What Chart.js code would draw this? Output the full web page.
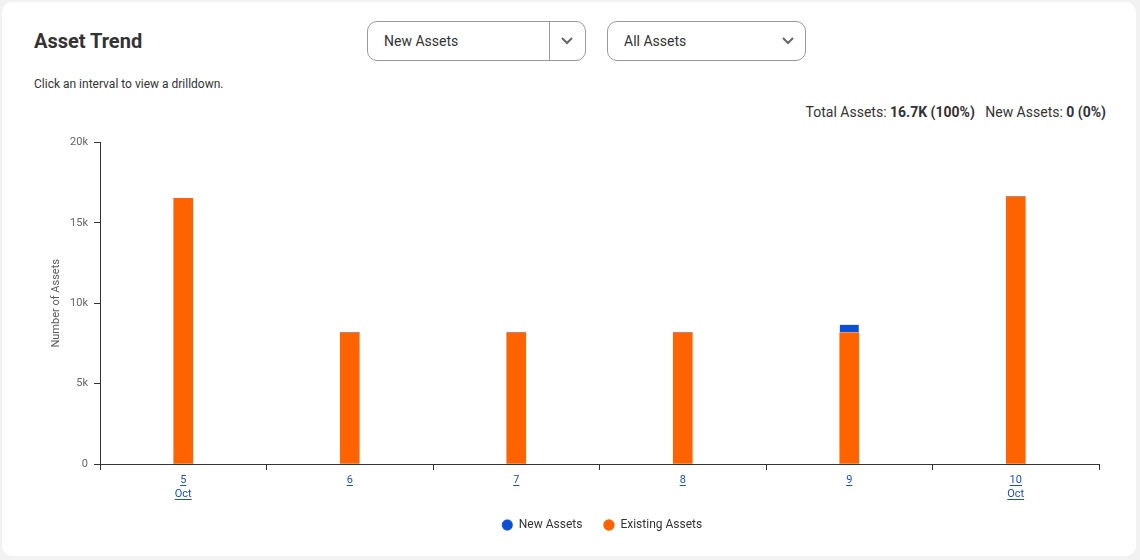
<!DOCTYPE html>
<html>
<head>
<meta charset="utf-8">
<script src="https://cdn.jsdelivr.net/npm/chart.js@4"></script>
<style>
  body { margin: 0; background: #f2f2f2; font-family: Roboto, sans-serif; color: #333; overflow: hidden; }
  .card { position: absolute; left: 2px; top: 2px; width: 1134px; height: 554px; background: #fff; border-radius: 10px; overflow: hidden; }
  .title { position: absolute; left: 32px; top: 27px; font-size: 20px; font-weight: bold; line-height: 24px; }
  .sub { position: absolute; left: 32px; top: 75px; font-size: 12px; line-height: 14px; }
  .dd { position: absolute; top: 19px; height: 38px; border: 1px solid #999; border-radius: 10px; box-sizing: content-box; font-size: 14px; line-height: 38px; }
  .dd span { position: absolute; left: 16px; }
  .dd svg { position: absolute; top: 14px; }
  .sep { position: absolute; left: 181px; top: 0; width: 1px; height: 38px; background: #999; }
  .stats { position: absolute; right: 30px; top: 101px; font-size: 14px; line-height: 18px; }
  .wrap { position: absolute; left: 24px; top: 128px; width: 1152px; height: 419px; }
</style>
</head>
<body>
<div class="card">
  <div class="title">Asset Trend</div>
  <div class="sub">Click an interval to view a drilldown.</div>
  <div class="dd" style="left:365px;width:217px">
    <span>New Assets</span>
    <div class="sep"></div>
    <svg style="left:192px" width="14" height="10"><polyline points="2,2 7,7 12,2" fill="none" stroke="#666" stroke-width="2"/></svg>
  </div>
  <div class="dd" style="left:605px;width:197px">
    <span>All Assets</span>
    <svg style="left:173px" width="14" height="10"><polyline points="2,2 7,7 12,2" fill="none" stroke="#666" stroke-width="2"/></svg>
  </div>
  <div class="stats">Total Assets: <b>16.7K (100%)</b>&nbsp;&nbsp;&nbsp;New Assets: <b>0 (0%)</b></div>
  <div class="wrap"><canvas id="myChart"></canvas></div>
</div>
<script>
const labels = [['5', 'Oct'], ['6'], ['7'], ['8'], ['9'], ['10', 'Oct']];
const existingAssets = [16530, 8160, 8160, 8160, 8160, 16620];
const newAssets = [0, 0, 0, 0, 500, 0];
const yTicks = [0, 5000, 10000, 15000, 20000];

const linkBlue = '#1c4fc4';

// underline the x tick labels like links
const underline = {
    id: 'underline',
    afterDraw(chart) {
        const scale = chart.scales.x;
        const ctx = chart.ctx;
        ctx.save();
        ctx.font = '11px Roboto';
        ctx.strokeStyle = linkBlue;
        ctx.lineWidth = 1;
        scale.ticks.forEach((t, i) => {
            const x = scale.getPixelForTick(i);
            const lines = [].concat(labels[i]);
            lines.forEach((s, j) => {
                const w = ctx.measureText(s).width;
                const y = Math.round(scale.top + 6 + 4 + 11 + j * 14) + 0.5;
                ctx.beginPath();
                ctx.moveTo(x - w / 2, y);
                ctx.lineTo(x + w / 2, y);
                ctx.stroke();
            });
        });
        ctx.restore();
    }
};

const data = {
    labels,
    datasets: [{
        label: 'Existing Assets',
        data: existingAssets,
        backgroundColor: '#ff6300',
        barThickness: 19,
    }, {
        label: 'New Assets',
        data: newAssets,
        backgroundColor: '#0a50d0',
        borderColor: '#ffffff',
        borderWidth: { bottom: 1, top: 0, left: 0, right: 0 },
        borderSkipped: false,
        barThickness: 19,
    }],
};

const config = {
    type: 'bar',
    data: data,
    plugins: [underline],
    options: {
        responsive: true,
        maintainAspectRatio: false,
        animation: false,
        layout: { padding: { top: 3, right: 0, bottom: 8 } },
        plugins: {
            tooltip: { enabled: false },
            legend: {
                position: 'bottom',
                reverse: true,
                labels: {
                    usePointStyle: true,
                    pointStyle: 'circle',
                    boxWidth: 11,
                    boxHeight: 8,
                    padding: 21,
                    color: '#333',
                    font: { family: 'Roboto', size: 12 },
                },
            },
        },
        scales: {
            x: {
                stacked: true,
                offset: true,
                grid: { display: true, drawOnChartArea: false, tickLength: 6, color: '#333', offset: true },
                border: { color: '#333', width: 1 },
                ticks: {
                    color: linkBlue,
                    padding: 3,
                    maxRotation: 0,
                    font: { family: 'Roboto', size: 11, lineHeight: 14 / 11 },
                },
                afterFit: s => { s.height = 34; },
            },
            y: {
                stacked: true,
                min: 0,
                max: 20000,
                afterBuildTicks: s => { s.ticks = yTicks.map(v => ({ value: v })); },
                grid: { display: true, drawOnChartArea: false, tickLength: 6, color: '#333' },
                border: { color: '#333', width: 1 },
                ticks: {
                    color: '#666',
                    padding: 6,
                    font: { family: 'Roboto', size: 11 },
                    callback: v => v === 0 ? '0' : (v / 1000) + 'k',
                },
                title: {
                    display: true,
                    text: 'Number of Assets',
                    color: '#5a5a5a',
                    padding: { top: 24, bottom: 4 },
                    font: { family: 'Roboto', size: 11 },
                },
                afterFit: s => { s.width = 74; },
            },
            // empty right-hand axis: keeps the legend centred like the original
            yRight: {
                type: 'linear',
                position: 'right',
                grid: { display: false },
                border: { display: false },
                ticks: { display: false },
                afterFit: s => { s.width = 79; },
            },
        },
    },
};

const myChart = new Chart(document.getElementById('myChart'), config);
</script>
</body>
</html>
